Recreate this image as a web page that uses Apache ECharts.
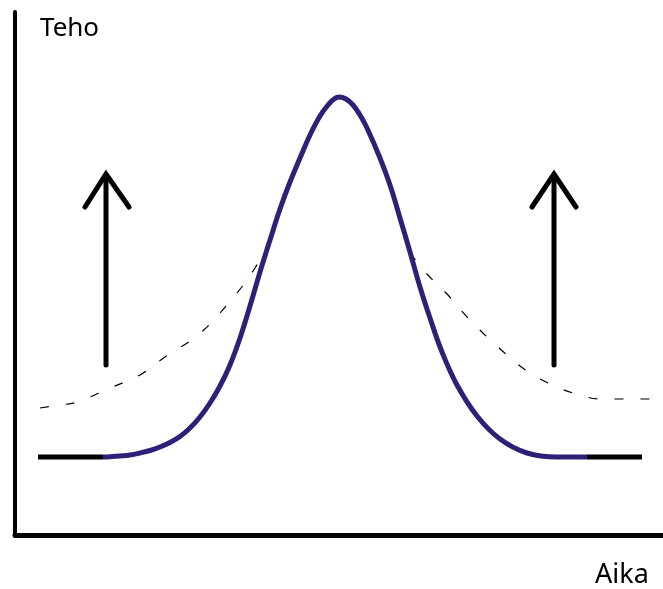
<!DOCTYPE html>
<html>
<head>
<meta charset="utf-8">
<script src="https://cdn.jsdelivr.net/npm/echarts@6/dist/echarts.min.js"></script>
<style>html,body{margin:0;padding:0;background:#fff;}#c{width:663px;height:589px;}</style>
</head>
<body>
<div id="c"></div>
<script>
// Units: x = time (Aika), y = power (Teho)
const bellX = [88, 95, 105, 115, 125, 135, 145, 155, 165, 175, 185, 195, 205, 215, 225, 235, 245, 255, 265, 275, 285, 295, 305, 313, 319, 324, 331, 338, 345, 352, 365, 375, 385, 395, 405, 415, 427, 442, 462, 485, 512, 542, 572];
const bellY = [78, 78.3, 79, 80, 82, 84.5, 88, 92.5, 98.5, 107, 118, 132, 149, 170, 197, 229, 263, 295, 326, 353, 377, 400, 419, 430, 436, 438, 436, 430, 420, 407, 377, 350, 317, 283, 248, 217, 183, 150, 119, 96, 82, 78, 78];
const baseLeftX = [23, 88];
const baseRightX = [572, 627];
const baseY = [78, 78];
const dashLeftX = [25, 45, 62, 95, 125, 150, 183, 212, 240, 257];
const dashLeftY = [127, 130, 133, 147, 160, 178, 200, 230, 267, 300];
const dashRightX = [395, 413, 433, 453, 483, 512, 542, 565, 585, 648];
const dashRightY = [282, 260, 240, 217, 188, 164, 148, 140, 136, 136];
const arrowLeftX = [91, 91];
const arrowRightX = [539, 539];
const arrowY = [170, 360];
const headLeftX = [70, 91, 114];
const headRightX = [517, 539, 561];
const headY = [328, 361, 328];
const yTitle = 'Teho';
const xTitle = 'Aika';

const zip = (a, b) => a.map((v, i) => [v, b[i]]);
const chart = echarts.init(document.getElementById('c'), null, {renderer: 'canvas'});
const blk = '#000';
const navy = '#2b2278';
chart.setOption({
  animation: false,
  backgroundColor: '#fff',
  grid: {left: 15, right: 0, top: 12, bottom: 54},
  xAxis: {type: 'value', min: 0, max: 648, axisLine: {show: true, onZero: false, lineStyle: {color: blk, width: 5}}, axisTick: {show: false}, axisLabel: {show: false}, splitLine: {show: false}},
  yAxis: {type: 'value', min: 0, max: 523, axisLine: {show: true, onZero: false, lineStyle: {color: blk, width: 4}}, axisTick: {show: false}, axisLabel: {show: false}, splitLine: {show: false}},
  graphic: [
    {type: 'text', left: 40, top: 16, style: {text: yTitle, font: '26px "Noto Sans"', fill: '#000'}},
    {type: 'text', left: 595, top: 562, style: {text: xTitle, font: '27px "Noto Sans"', fill: '#000'}}
  ],
  series: [
    {type: 'line', data: zip(dashLeftX, dashLeftY), smooth: 0.4, symbol: 'none', lineStyle: {color: blk, width: 1.2, type: [9, 17]}},
    {type: 'line', data: zip(dashRightX, dashRightY), smooth: 0.4, symbol: 'none', lineStyle: {color: blk, width: 1.2, type: [9, 17]}},
    {type: 'line', data: zip(baseLeftX, baseY), symbol: 'none', lineStyle: {color: blk, width: 5}},
    {type: 'line', data: zip(baseRightX, baseY), symbol: 'none', lineStyle: {color: blk, width: 5}},
    {type: 'line', data: zip(bellX, bellY), smooth: 0.4, symbol: 'none', lineStyle: {color: navy, width: 5}},
    {type: 'line', data: zip(arrowLeftX, arrowY), symbol: 'none', lineStyle: {color: blk, width: 5, cap: 'round'}},
    {type: 'line', data: zip(arrowRightX, arrowY), symbol: 'none', lineStyle: {color: blk, width: 5, cap: 'round'}},
    {type: 'line', data: zip(headLeftX, headY), symbol: 'none', lineStyle: {color: blk, width: 5, cap: 'round', join: 'miter'}},
    {type: 'line', data: zip(headRightX, headY), symbol: 'none', lineStyle: {color: blk, width: 5, cap: 'round', join: 'miter'}}
  ]
});
</script>
</body>
</html>
